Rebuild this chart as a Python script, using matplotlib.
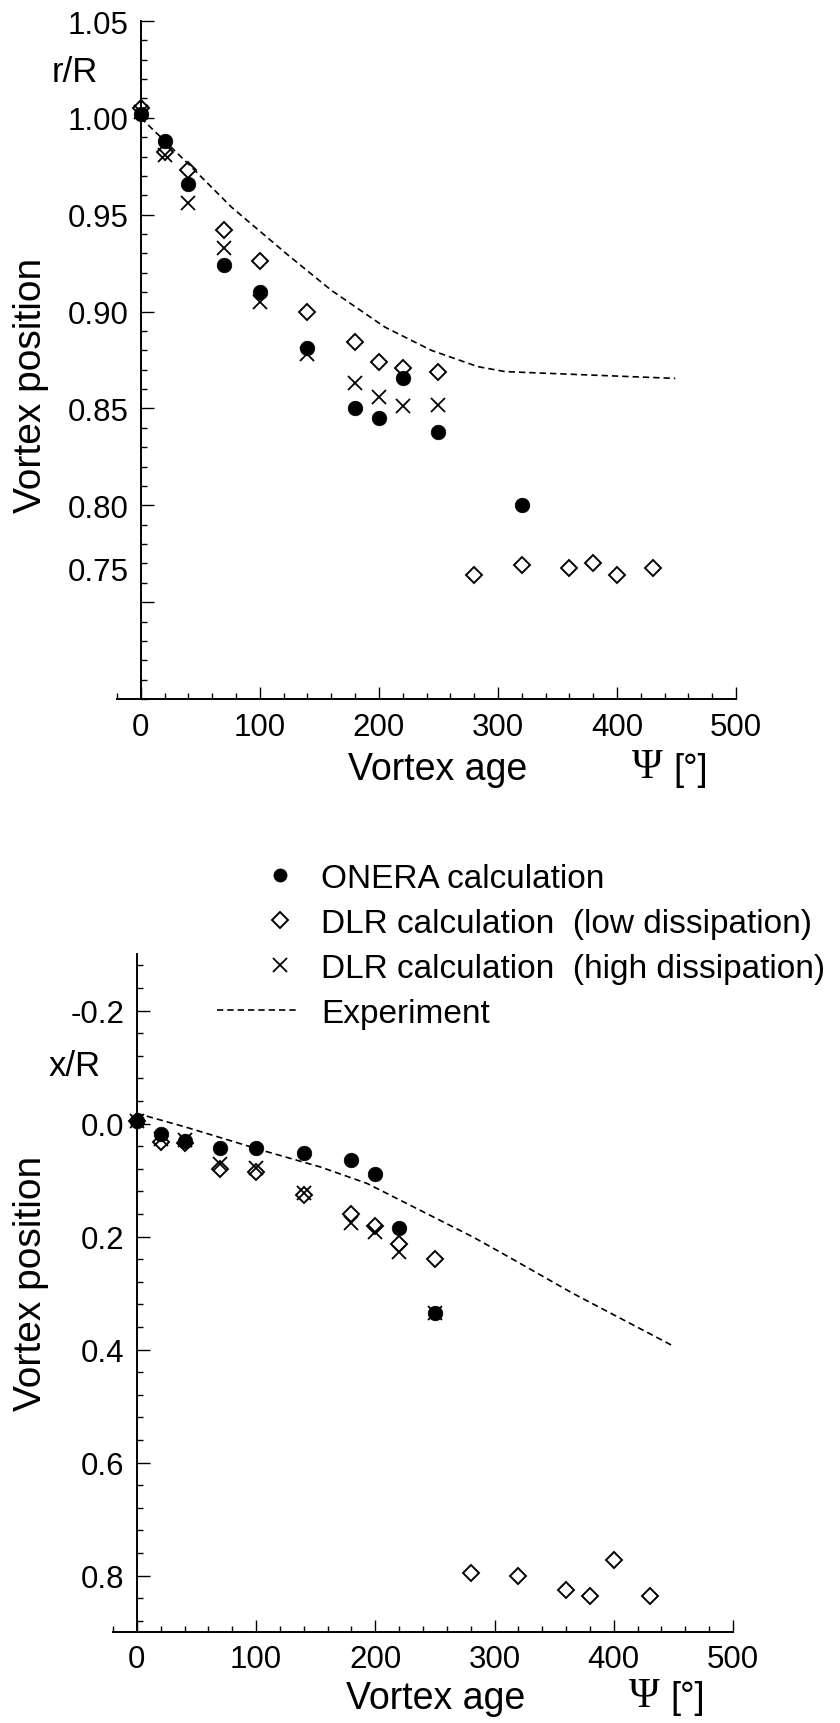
# -*- coding: utf-8 -*-
# Vortex position vs vortex age (radial r/R and axial x/R)

import numpy as np
import matplotlib
matplotlib.use('Agg')
import matplotlib.pyplot as plt
from matplotlib.legend_handler import HandlerLine2D
from matplotlib.ticker import MultipleLocator, FixedLocator, FixedFormatter, FormatStrFormatter

plt.rcParams['font.family'] = ['Liberation Sans', 'DejaVu Sans']

# Radial position r/R (top plot)
age_onera_r = [0, 20, 40, 70, 100, 140, 180, 200, 220, 250, 320]
onera_r = [1.002, 0.988, 0.966, 0.924, 0.910, 0.881, 0.850, 0.845, 0.8655, 0.838, 0.800]

age_low_r = [0, 20, 40, 70, 100, 140, 180, 200, 220, 250, 280, 320, 360, 380, 400, 430]
low_r = [1.005, 0.9825, 0.973, 0.942, 0.926, 0.900, 0.8845, 0.874, 0.871, 0.8686,
         0.764, 0.769, 0.7675, 0.770, 0.764, 0.7675]

age_high_r = [0, 20, 40, 70, 100, 140, 180, 200, 220, 250]
high_r = [1.003, 0.981, 0.956, 0.933, 0.905, 0.878, 0.863, 0.856, 0.8515, 0.852]

age_exp_r = [0, 37, 76, 124, 160, 205, 244, 283, 306, 367, 449]
exp_r = [1.000, 0.978, 0.954, 0.929, 0.911, 0.892, 0.880, 0.8716, 0.869, 0.8675, 0.8655]

# tick labels of the r/R axis (the 0.75 label sits a bit high in the original)
r_ticks = [0.80, 0.85, 0.90, 0.95, 1.00, 1.05]
r_ticklabels = ['0.80', '0.85', '0.90', '0.95', '1.00', '1.05']
r_label_075 = 0.7655

# Axial position x/R (bottom plot)
age_onera_x = [0, 20, 40, 70, 100, 140, 180, 200, 220, 250]
onera_x = [-0.005, 0.019, 0.031, 0.044, 0.044, 0.053, 0.065, 0.090, 0.185, 0.335]

age_low_x = [0, 20, 40, 70, 100, 140, 180, 200, 220, 250, 280, 320, 360, 380, 400, 430]
low_x = [-0.005, 0.032, 0.034, 0.081, 0.086, 0.127, 0.160, 0.181, 0.213, 0.240,
         0.795, 0.801, 0.826, 0.837, 0.773, 0.837]

age_high_x = [0, 20, 40, 70, 100, 140, 180, 200, 220, 250]
high_x = [-0.005, 0.027, 0.030, 0.071, 0.078, 0.123, 0.176, 0.192, 0.227, 0.335]

age_exp_x = [0, 42, 106, 154, 193, 238, 282, 305, 366, 450]
exp_x = [-0.018, 0.007, 0.048, 0.077, 0.106, 0.154, 0.201, 0.228, 0.301, 0.394]

x_ticks = [-0.2, 0.0, 0.2, 0.4, 0.6, 0.8]

labels = ['ONERA calculation',
          'DLR calculation  (low dissipation)',
          'DLR calculation  (high dissipation)',
          'Experiment']

W, H = 840, 1724
def fx(px):
    return px / W
def fy(py):
    return 1 - py / H


class RightMarker(HandlerLine2D):
    # marker sits in the middle of xdata, so shift xdata to the right
    def get_xdata(self, legend, xdescent, ydescent, width, height, fontsize):
        xd = np.array([-xdescent + 0.58 * width, -xdescent + width])
        return xd, np.array([-xdescent + 0.79 * width])


def style(ax):
    ax.spines['top'].set_visible(False)
    ax.spines['right'].set_visible(False)
    ax.spines['left'].set_position(('data', 0))
    for s in ('left', 'bottom'):
        ax.spines[s].set_linewidth(1.4)
    ax.xaxis.set_major_locator(MultipleLocator(100))
    ax.xaxis.set_minor_locator(MultipleLocator(20))
    ax.tick_params(which='both', direction='in', width=1.0, labelsize=22.5, pad=9)
    ax.tick_params(which='major', length=9)
    ax.tick_params(which='minor', length=4)
    ax.set_xlim(-20, 500)


def draw(ax, a1, v1, a2, v2, a3, v3, a4, v4):
    h1, = ax.plot(a1, v1, 'o', ms=10.5, color='black', mec='black', mew=0.5, ls='none')
    h2, = ax.plot(a2, v2, 'D', ms=8.6, mfc='none', mec='black', mew=1.4, ls='none')
    h3, = ax.plot(a3, v3, 'x', ms=10.5, color='black', mew=1.3, ls='none')
    h4, = ax.plot(a4, v4, color='black', lw=1.2, ls=(0, (3.8, 2.4)))
    for h in (h1, h2, h3, h4):
        h.set_clip_on(False)
    return [h1, h2, h3, h4]


fig = plt.figure(figsize=(W / 100, H / 100), dpi=100)

# top plot
ax1 = fig.add_axes([fx(117), fy(700), fx(619), 678 / H])
handles = draw(ax1, age_onera_r, onera_r, age_low_r, low_r, age_high_r, high_r, age_exp_r, exp_r)
style(ax1)
ax1.set_ylim(0.70, 1.05)
ax1.yaxis.set_major_locator(FixedLocator([0.75] + r_ticks))
ax1.yaxis.set_major_formatter(FixedFormatter([''] + r_ticklabels))
ax1.yaxis.set_minor_locator(MultipleLocator(0.01))
ax1.annotate('0.75', xy=(0, r_label_075), xytext=(-9, 0), textcoords='offset points',
             ha='right', va='center', fontsize=22.5, annotation_clip=False)

# bottom plot
ax2 = fig.add_axes([fx(113), fy(1633), fx(620), 678 / H])
draw(ax2, age_onera_x, onera_x, age_low_x, low_x, age_high_x, high_x, age_exp_x, exp_x)
style(ax2)
ax2.set_ylim(0.9, -0.3)
ax2.yaxis.set_major_locator(FixedLocator(x_ticks))
ax2.yaxis.set_minor_locator(MultipleLocator(0.04))
ax2.yaxis.set_major_formatter(FormatStrFormatter('%.1f'))

# axis texts
fig.text(fx(31), fy(385), 'Vortex position', rotation=90, fontsize=28, ha='center', va='center')
fig.text(fx(75), fy(72), 'r/R', fontsize=25, ha='center', va='center')
fig.text(fx(438), fy(770), 'Vortex age', fontsize=27, ha='center', va='center')
fig.text(fx(632), fy(768), '\u03a8', fontsize=30, family='Liberation Serif', ha='left', va='center')
fig.text(fx(673), fy(770), '[\u00b0]', fontsize=26, ha='left', va='center')

fig.text(fx(31), fy(1283), 'Vortex position', rotation=90, fontsize=28, ha='center', va='center')
fig.text(fx(75), fy(1067), 'x/R', fontsize=25, ha='center', va='center')
fig.text(fx(436), fy(1699), 'Vortex age', fontsize=27, ha='center', va='center')
fig.text(fx(629), fy(1697), '\u03a8', fontsize=30, family='Liberation Serif', ha='left', va='center')
fig.text(fx(670), fy(1699), '[\u00b0]', fontsize=26, ha='left', va='center')

# legend between the plots
rm = RightMarker()
fig.legend(handles, labels, loc='upper left', bbox_to_anchor=(fx(217), fy(864)),
           frameon=False, fontsize=24, handlelength=2.4, handletextpad=0.72,
           labelspacing=0.42, borderpad=0, borderaxespad=0, markerscale=0.9,
           handler_map={handles[0]: rm, handles[1]: rm, handles[2]: rm})

fig.savefig('out.png', dpi=100)
